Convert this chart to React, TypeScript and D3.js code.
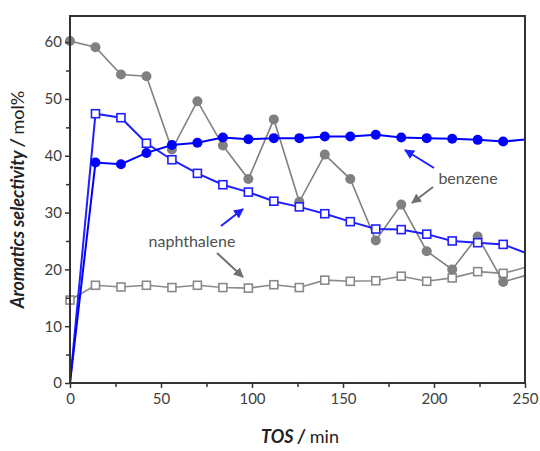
import { useRef, useEffect } from "react";
import * as d3 from "d3";

// time on stream, min (last point sits past the frame and gets clipped)
const tos = [0, 14, 28, 42, 56, 70, 84, 98, 112, 126, 140, 154, 168, 182, 196, 210, 224, 238, 252];

const benzeneBlue = [0, 38.8, 38.5, 40.5, 41.9, 42.3, 43.2, 42.9, 43.1, 43.1, 43.4, 43.4, 43.7, 43.2, 43.1, 43.0, 42.8, 42.5, 42.9];
const naphthaleneBlue = [0, 47.4, 46.7, 42.2, 39.3, 36.9, 34.9, 33.6, 32.0, 31.0, 29.8, 28.4, 27.1, 27.0, 26.2, 25.0, 24.7, 24.4, 22.7];
const benzeneGray = [60.2, 59.1, 54.3, 54.0, 41.1, 49.6, 41.8, 35.9, 46.4, 31.9, 40.2, 35.9, 25.1, 31.4, 23.2, 20.0, 25.8, 17.8, 19.1];
const naphthaleneGray = [14.6, 17.2, 16.9, 17.2, 16.8, 17.2, 16.8, 16.7, 17.3, 16.8, 18.1, 17.9, 18.0, 18.8, 17.9, 18.5, 19.6, 19.3, 20.5];

const xTicks = [0, 50, 100, 150, 200, 250];
const yTicks = [0, 10, 20, 30, 40, 50, 60];

const width = 540;
const height = 451;
const margin = { top: 16, right: 15, bottom: 68, left: 70 };

export default function App() {
  const ref = useRef<SVGSVGElement>(null);

  useEffect(() => {
    if (!ref.current) return;
    const svg = d3.select(ref.current);
    svg.selectAll("*").remove();

    const x = d3.scaleLinear([0, 250], [margin.left, width - margin.right]);
    const y = d3.scaleLinear([0, 64.6], [height - margin.bottom, margin.top]);
    const font = "Lato, 'Open Sans', sans-serif";

    svg
      .append("defs")
      .append("clipPath")
      .attr("id", "plot-clip")
      .append("rect")
      .attr("x", x(0) - 6)
      .attr("y", y(64.6))
      .attr("width", x(250) - x(0) + 6)
      .attr("height", y(0) - y(64.6) + 6);

    const plot = svg.append("g").attr("clip-path", "url(#plot-clip)");

    const series = [
      { values: naphthaleneGray, color: "#8a8a8a", shape: "square", from: 0, width: 1.6 },
      { values: benzeneGray, color: "#808080", shape: "circle", from: 0, width: 1.6 },
      { values: naphthaleneBlue, color: "#1f1fff", shape: "square", from: 1, width: 2 },
      { values: benzeneBlue, color: "#0000ff", shape: "circle", from: 1, width: 2 },
    ];

    series.forEach((s) => {
      const pts = tos.map((t, i) => [t, s.values[i]] as [number, number]);
      const line = d3
        .line<[number, number]>()
        .x((d) => x(d[0]))
        .y((d) => y(d[1]));
      plot
        .append("path")
        .attr("d", line(pts))
        .attr("fill", "none")
        .attr("stroke", s.color)
        .attr("stroke-width", s.width);

      const shown = pts.filter((d, i) => d[0] <= 250 && i >= s.from);
      if (s.shape === "circle") {
        plot
          .append("g")
          .selectAll("circle")
          .data(shown)
          .join("circle")
          .attr("cx", (d) => x(d[0]))
          .attr("cy", (d) => y(d[1]))
          .attr("r", 5)
          .attr("fill", s.color);
      } else {
        plot
          .append("g")
          .selectAll("rect")
          .data(shown)
          .join("rect")
          .attr("x", (d) => x(d[0]) - 4)
          .attr("y", (d) => y(d[1]) - 4)
          .attr("width", 8)
          .attr("height", 8)
          .attr("fill", "white")
          .attr("stroke", s.color)
          .attr("stroke-width", 1.6);
      }
    });

    // frame
    svg
      .append("rect")
      .attr("x", x(0))
      .attr("y", y(64.6))
      .attr("width", x(250) - x(0))
      .attr("height", y(0) - y(64.6))
      .attr("fill", "none")
      .attr("stroke", "#333")
      .attr("stroke-width", 2);

    // axes with minor ticks
    svg
      .append("g")
      .attr("transform", `translate(${x(0)},0)`)
      .call(d3.axisLeft(y).tickValues(d3.range(5, 65, 10)).tickSize(4).tickFormat(() => ""))
      .call((g) => g.select(".domain").remove());
    svg
      .append("g")
      .attr("transform", `translate(${x(0)},0)`)
      .call(d3.axisLeft(y).tickValues(yTicks).tickSize(5).tickPadding(3))
      .call((g) => g.select(".domain").remove());

    svg
      .append("g")
      .attr("transform", `translate(0,${y(0)})`)
      .call(d3.axisBottom(x).tickValues(d3.range(25, 250, 50)).tickSize(4).tickFormat(() => ""))
      .call((g) => g.select(".domain").remove());
    svg
      .append("g")
      .attr("transform", `translate(0,${y(0)})`)
      .call(d3.axisBottom(x).tickValues(xTicks).tickSize(5).tickPadding(5))
      .call((g) => g.select(".domain").remove());

    svg
      .selectAll(".tick line")
      .attr("stroke", "#333")
      .attr("stroke-width", 1.5);
    svg
      .selectAll(".tick text")
      .attr("font-family", font)
      .attr("font-size", 15)
      .attr("fill", "#404040");

    // axis titles
    const xt = svg
      .append("text")
      .attr("x", 300)
      .attr("y", 443)
      .attr("text-anchor", "middle")
      .attr("font-family", font)
      .attr("font-size", 18)
      .attr("fill", "#222");
    xt.append("tspan").attr("font-weight", "bold").attr("font-style", "italic").text("TOS /");
    xt.append("tspan").text(" min");

    const yt = svg
      .append("text")
      .attr("transform", `translate(24,${(y(0) + y(64.6)) / 2}) rotate(-90)`)
      .attr("text-anchor", "middle")
      .attr("font-family", font)
      .attr("font-size", 18)
      .attr("fill", "#222");
    yt.append("tspan").attr("font-weight", "bold").attr("font-style", "italic").text("Aromatics selectivity /");
    yt.append("tspan").text(" mol%");

    // annotations
    const defs = svg.select("defs");
    [
      { id: "arrow-blue", color: "#1f1fff" },
      { id: "arrow-gray", color: "#707070" },
    ].forEach((m) => {
      defs
        .append("marker")
        .attr("id", m.id)
        .attr("viewBox", "0 0 10 10")
        .attr("refX", 9)
        .attr("refY", 5)
        .attr("markerWidth", 5)
        .attr("markerHeight", 5)
        .attr("orient", "auto")
        .append("path")
        .attr("d", "M0,0L10,5L0,10z")
        .attr("fill", m.color);
    });

    const arrows = [
      { from: [434, 168], to: [405, 150], id: "arrow-blue", color: "#1f1fff" },
      { from: [433, 187], to: [412, 203], id: "arrow-gray", color: "#707070" },
      { from: [221, 226], to: [243, 209], id: "arrow-blue", color: "#1f1fff" },
      { from: [217, 253], to: [243, 277], id: "arrow-gray", color: "#707070" },
    ];
    arrows.forEach((a) => {
      svg
        .append("line")
        .attr("x1", a.from[0])
        .attr("y1", a.from[1])
        .attr("x2", a.to[0])
        .attr("y2", a.to[1])
        .attr("stroke", a.color)
        .attr("stroke-width", 2)
        .attr("marker-end", `url(#${a.id})`);
    });

    svg
      .append("text")
      .attr("x", 468)
      .attr("y", 184)
      .attr("text-anchor", "middle")
      .attr("font-family", font)
      .attr("font-size", 16)
      .attr("fill", "#505050")
      .text("benzene");
    svg
      .append("text")
      .attr("x", 192)
      .attr("y", 247)
      .attr("text-anchor", "middle")
      .attr("font-family", font)
      .attr("font-size", 16)
      .attr("fill", "#505050")
      .text("naphthalene");
  }, []);

  return (
    <svg
      ref={ref}
      width={width}
      height={height}
      style={{ position: "absolute", left: 0, top: 0, background: "white" }}
    />
  );
}
